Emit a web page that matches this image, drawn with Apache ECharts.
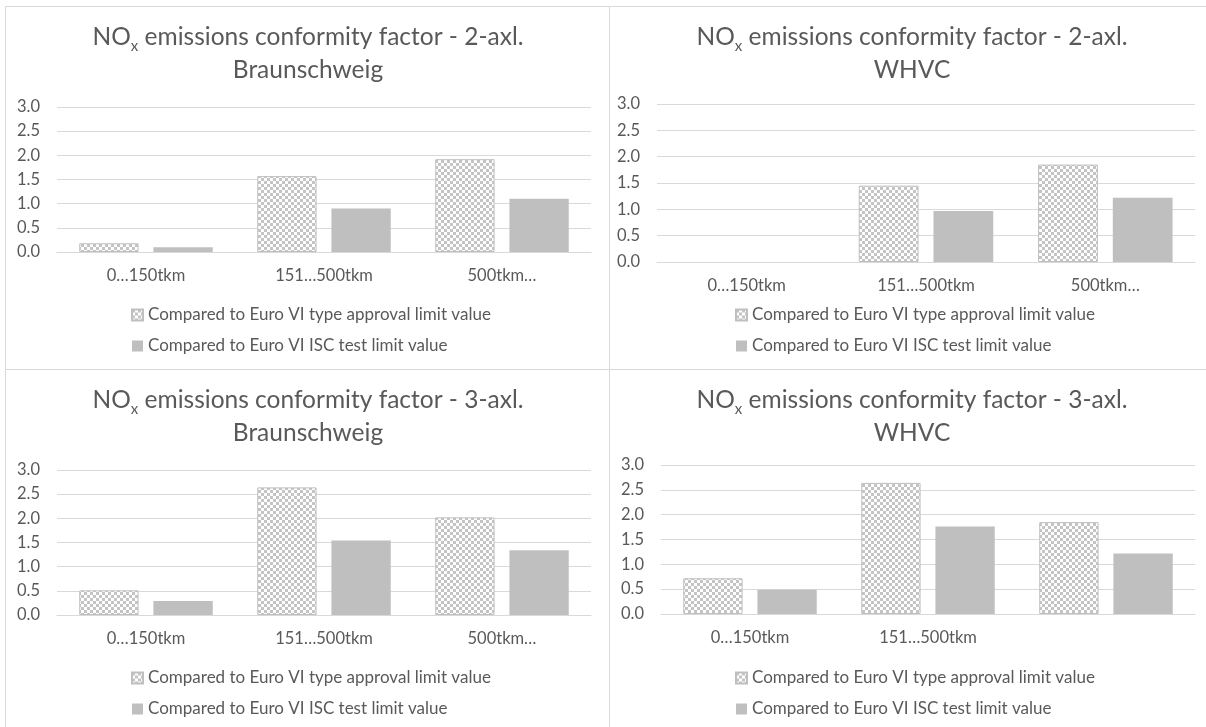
<!DOCTYPE html>
<html>
<head>
<meta charset="utf-8">
<script src="https://cdn.jsdelivr.net/npm/echarts@6/dist/echarts.min.js"></script>
<style>
    html, body { margin: 0; padding: 0; background: #fff; }
    .panel {
        position: absolute;
        width: 604px;
        height: 363px;
        border-left: 1px solid #d9d9d9;
        border-top: 1px solid #d9d9d9;
    }
</style>
</head>
<body>
<div class="panel" id="p1" style="left:5px;top:6px"></div>
<div class="panel" id="p2" style="left:609px;top:6px"></div>
<div class="panel" id="p3" style="left:5px;top:369px"></div>
<div class="panel" id="p4" style="left:609px;top:369px"></div>
<script>
var categories = ['0…150tkm', '151…500tkm', '500tkm…'];
var categoriesLast = ['0…150tkm', '151…500tkm', ''];
var seriesNames = ['Compared to Euro VI type approval limit value', 'Compared to Euro VI ISC test limit value'];
var yMin = 0, yMax = 3, yStep = 0.5;

var approval2Braunschweig = [0.18, 1.57, 1.92];
var isc2Braunschweig = [0.10, 0.90, 1.10];
var approval2Whvc = [null, 1.45, 1.85];
var isc2Whvc = [null, 0.97, 1.22];
var approval3Braunschweig = [0.51, 2.64, 2.02];
var isc3Braunschweig = [0.29, 1.54, 1.34];
var approval3Whvc = [0.72, 2.64, 1.85];
var isc3Whvc = [0.49, 1.76, 1.22];

var FONT = 'Lato';
var TEXT = '#595959';

// checker pattern like excel's "small checker board"
function checker() {
    var c = document.createElement('canvas');
    c.width = 6;
    c.height = 6;
    var ctx = c.getContext('2d');
    ctx.fillStyle = '#ffffff';
    ctx.fillRect(0, 0, 6, 6);
    ctx.fillStyle = '#c4c4c4';
    ctx.fillRect(0, 0, 3, 3);
    ctx.fillRect(3, 3, 3, 3);
    return c;
}

function buildOption(axl, cycle, cats, approval, isc, grid) {
    return {
        animation: false,
        textStyle: { fontFamily: FONT },
        title: {
            left: 'center',
            top: 9,
            text: '{t|NO}{s|x}{t| emissions conformity factor - ' + axl + '-axl.}\n{t|' + cycle + '}',
            textStyle: {
                fontWeight: 'normal',
                rich: {
                    t: { fontFamily: FONT, fontSize: 24.5, fontWeight: 'normal', color: TEXT, lineHeight: 33 },
                    s: { fontFamily: FONT, fontSize: 15, fontWeight: 'normal', color: TEXT, lineHeight: 22, verticalAlign: 'bottom' }
                }
            }
        },
        legend: {
            orient: 'vertical',
            left: 125,
            top: 298,
            padding: 0,
            icon: 'rect',
            itemWidth: 11,
            itemHeight: 11,
            itemGap: 11,
            textStyle: { fontFamily: FONT, fontSize: 17, color: TEXT, lineHeight: 20 },
            data: seriesNames
        },
        grid: grid,
        xAxis: {
            type: 'category',
            data: cats,
            axisLine: { lineStyle: { color: '#d9d9d9', width: 1 } },
            axisTick: { show: false },
            axisLabel: { color: TEXT, fontSize: 16.5, margin: 15, fontFamily: FONT }
        },
        yAxis: {
            type: 'value',
            min: yMin,
            max: yMax,
            interval: yStep,
            axisLine: { show: false },
            axisTick: { show: false },
            splitLine: { lineStyle: { color: '#d9d9d9', width: 1 } },
            axisLabel: {
                color: TEXT, fontSize: 16.5, margin: 17, fontFamily: FONT,
                formatter: function (v) { return v.toFixed(1) }
            }
        },
        series: [{
            name: seriesNames[0],
            type: 'bar',
            data: approval,
            barGap: '25%',
            barCategoryGap: '25%',
            itemStyle: {
                color: { image: checker(), repeat: 'repeat' },
                borderColor: '#bfbfbf',
                borderWidth: 1
            }
        }, {
            name: seriesNames[1],
            type: 'bar',
            data: isc,
            barGap: '25%',
            barCategoryGap: '25%',
            itemStyle: { color: '#bfbfbf' }
        }]
    };
}

window.onload = function () {
    var panels = [
        ['p1', 2, 'Braunschweig', categories, approval2Braunschweig, isc2Braunschweig, { left: 51, top: 100, width: 534, height: 145 }],
        ['p2', 2, 'WHVC', categories, approval2Whvc, isc2Whvc, { left: 47, top: 97, width: 538, height: 158 }],
        ['p3', 3, 'Braunschweig', categories, approval3Braunschweig, isc3Braunschweig, { left: 51, top: 100, width: 534, height: 145 }],
        ['p4', 3, 'WHVC', categoriesLast, approval3Whvc, isc3Whvc, { left: 51, top: 95, width: 534, height: 149 }]
    ];
    for (var i = 0; i < panels.length; i++) {
        var p = panels[i];
        var chart = echarts.init(document.getElementById(p[0]));
        chart.setOption(buildOption(p[1], p[2], p[3], p[4], p[5], p[6]));
    }
};
</script>
</body>
</html>
